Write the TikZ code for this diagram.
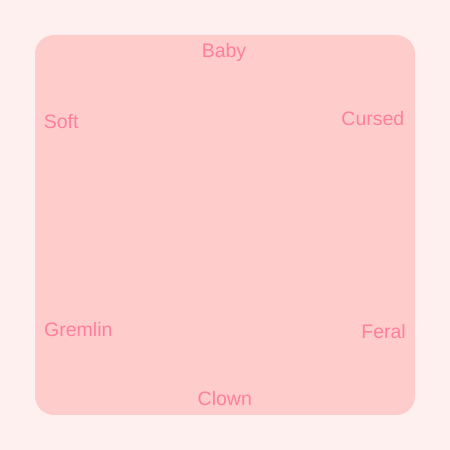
\documentclass[tikz,border=0pt]{standalone}
\usepackage{fontspec}
\setmainfont{Liberation Sans}
\definecolor{bgpink}{HTML}{FFF0F0}
\definecolor{boxpink}{HTML}{FFCCCC}
\definecolor{txtpink}{HTML}{FF7F9C}
\begin{document}
\begin{tikzpicture}[x=1pt,y=1pt,
  lbl/.style={inner sep=0pt,text=txtpink,font=\fontsize{19.5}{22}\selectfont}]
\fill[bgpink] (0,0) rectangle (450,450);
\useasboundingbox (0,0) rectangle (450,450);
\node[fill=boxpink,rounded corners=19pt,minimum width=380pt,minimum height=380pt,inner sep=0pt] (box) at (225,225) {};
\node[lbl,anchor=base] (baby) at (224,392.5) {Baby};
\node[lbl,anchor=base west] (soft) at (43.7,321.7) {Soft};
\node[lbl,anchor=base east] (cursed) at (404.5,324) {Cursed};
\node[lbl,anchor=base west] (gremlin) at (44,113.3) {Gremlin};
\node[lbl,anchor=base east] (feral) at (406,111) {Feral};
\node[lbl,anchor=base] (clown) at (224.8,44) {Clown};
\end{tikzpicture}
\end{document}
